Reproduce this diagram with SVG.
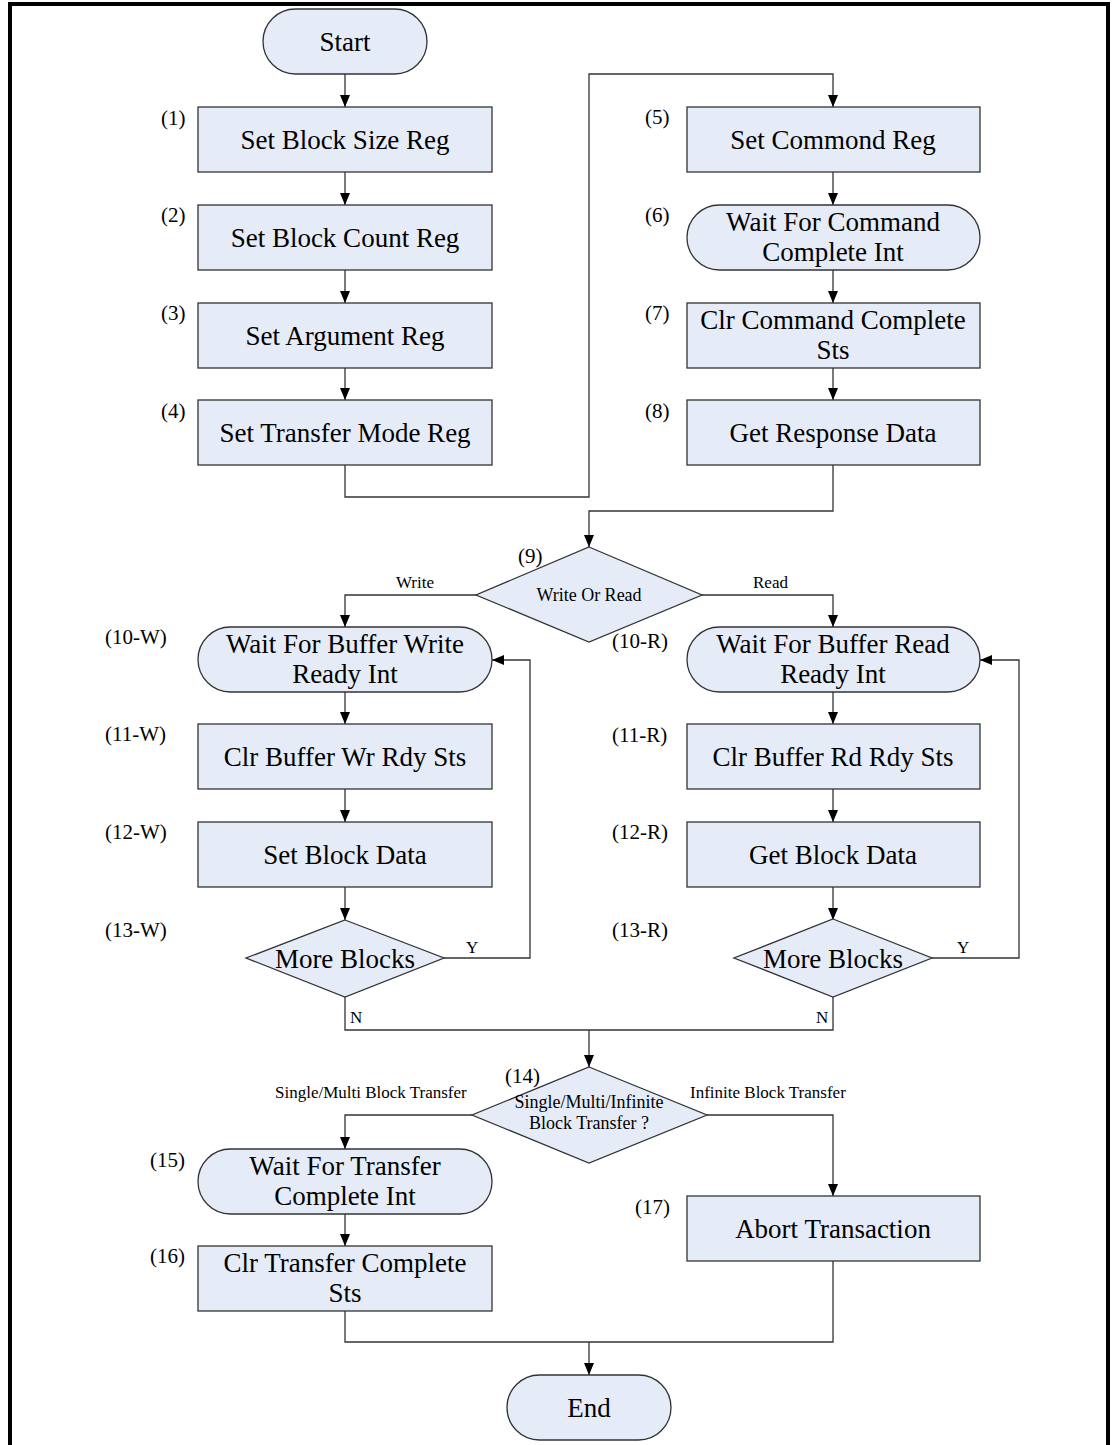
<svg xmlns="http://www.w3.org/2000/svg" width="1114" height="1445" viewBox="0 0 1114 1445">
<style>
.n{fill:#E6ECF7;stroke:#333;stroke-width:1.3}
.t{font-family:"Liberation Serif","Times New Roman",serif;font-size:27px;fill:#000;text-anchor:middle}
.s{font-family:"Liberation Serif","Times New Roman",serif;font-size:18px;fill:#000;text-anchor:middle}
.l{font-family:"Liberation Serif","Times New Roman",serif;font-size:21px;fill:#000}
.y{font-family:"Liberation Serif","Times New Roman",serif;font-size:17px;fill:#000}
.c{fill:none;stroke:#333;stroke-width:1.3}
</style>
<defs>
<marker id="a" markerUnits="userSpaceOnUse" markerWidth="12" markerHeight="12" refX="12" refY="5" orient="auto" viewBox="0 0 12 10">
<path d="M0,0 L12,5 L0,10 z" fill="#000"/>
</marker>
</defs>
<rect x="0" y="0" width="1114" height="1445" fill="#fff"/>
<rect x="10" y="4" width="1098" height="1460" fill="none" stroke="#000" stroke-width="4"/>

<g id="connectors">
<path class="c" d="M345,74 V107" marker-end="url(#a)"/>
<path class="c" d="M345,172 V205" marker-end="url(#a)"/>
<path class="c" d="M345,270 V303" marker-end="url(#a)"/>
<path class="c" d="M345,368 V400" marker-end="url(#a)"/>
<path class="c" d="M345,465 V497 H589 V74 H833 V107" marker-end="url(#a)"/>
<path class="c" d="M833,172 V205" marker-end="url(#a)"/>
<path class="c" d="M833,270 V303" marker-end="url(#a)"/>
<path class="c" d="M833,368 V400" marker-end="url(#a)"/>
<path class="c" d="M833,465 V511 H589 V547" marker-end="url(#a)"/>
<path class="c" d="M476,595 H345 V627" marker-end="url(#a)"/>
<path class="c" d="M702,595 H833 V627" marker-end="url(#a)"/>
<path class="c" d="M345,692 V724" marker-end="url(#a)"/>
<path class="c" d="M345,789 V822" marker-end="url(#a)"/>
<path class="c" d="M345,887 V920" marker-end="url(#a)"/>
<path class="c" d="M444,958 H530 V660 H492" marker-end="url(#a)"/>
<path class="c" d="M833,692 V724" marker-end="url(#a)"/>
<path class="c" d="M833,789 V822" marker-end="url(#a)"/>
<path class="c" d="M833,887 V920" marker-end="url(#a)"/>
<path class="c" d="M932,958 H1019 V660 H980" marker-end="url(#a)"/>
<path class="c" d="M345,997 V1030 H833 V997"/>
<path class="c" d="M589,1030 V1067" marker-end="url(#a)"/>
<path class="c" d="M472,1115 H345 V1149" marker-end="url(#a)"/>
<path class="c" d="M707,1115 H833 V1196" marker-end="url(#a)"/>
<path class="c" d="M345,1214 V1246" marker-end="url(#a)"/>
<path class="c" d="M345,1311 V1342 H833 V1261"/>
<path class="c" d="M589,1342 V1375" marker-end="url(#a)"/>
<text class="y" x="396" y="588">Write</text>
<text class="y" x="753" y="588">Read</text>
<text class="y" x="466" y="953">Y</text>
<text class="y" x="350" y="1023">N</text>
<text class="y" x="957" y="953">Y</text>
<text class="y" x="816" y="1023">N</text>
<text class="y" x="275" y="1098">Single/Multi Block Transfer</text>
<text class="y" x="690" y="1098">Infinite Block Transfer</text>
</g>

<g id="start"><rect class="n" x="263" y="9" width="164" height="65" rx="32.5"/><text class="t" x="345" y="51">Start</text></g>
<g id="n1"><rect class="n" x="198" y="107" width="294" height="65"/><text class="t" x="345" y="149">Set Block Size Reg</text><text class="l" x="161" y="125">(1)</text></g>
<g id="n2"><rect class="n" x="198" y="205" width="294" height="65"/><text class="t" x="345" y="247">Set Block Count Reg</text><text class="l" x="161" y="222">(2)</text></g>
<g id="n3"><rect class="n" x="198" y="303" width="294" height="65"/><text class="t" x="345" y="345">Set Argument Reg</text><text class="l" x="161" y="320">(3)</text></g>
<g id="n4"><rect class="n" x="198" y="400" width="294" height="65"/><text class="t" x="345" y="442">Set Transfer Mode Reg</text><text class="l" x="161" y="418">(4)</text></g>

<g id="n5"><rect class="n" x="687" y="107" width="293" height="65"/><text class="t" x="833" y="149">Set Commond Reg</text><text class="l" x="645" y="124">(5)</text></g>
<g id="n6"><rect class="n" x="687" y="205" width="293" height="65" rx="32.5"/><text class="t" x="833" y="231">Wait For Command</text><text class="t" x="833" y="261">Complete Int</text><text class="l" x="645" y="222">(6)</text></g>
<g id="n7"><rect class="n" x="687" y="303" width="293" height="65"/><text class="t" x="833" y="329">Clr Command Complete</text><text class="t" x="833" y="359">Sts</text><text class="l" x="645" y="320">(7)</text></g>
<g id="n8"><rect class="n" x="687" y="400" width="293" height="65"/><text class="t" x="833" y="442">Get Response Data</text><text class="l" x="645" y="418">(8)</text></g>

<g id="n9"><polygon class="n" points="589,547 702,595 589,642 476,595"/><text class="s" x="589" y="601">Write Or Read</text><text class="l" x="518" y="563">(9)</text></g>

<g id="n10w"><rect class="n" x="198" y="627" width="294" height="65" rx="32.5"/><text class="t" x="345" y="653">Wait For Buffer Write</text><text class="t" x="345" y="683">Ready Int</text><text class="l" x="105" y="644">(10-W)</text></g>
<g id="n11w"><rect class="n" x="198" y="724" width="294" height="65"/><text class="t" x="345" y="766">Clr Buffer Wr Rdy Sts</text><text class="l" x="105" y="741">(11-W)</text></g>
<g id="n12w"><rect class="n" x="198" y="822" width="294" height="65"/><text class="t" x="345" y="864">Set Block Data</text><text class="l" x="105" y="839">(12-W)</text></g>
<g id="n13w"><polygon class="n" points="345,920 444,958 345,997 246,958"/><text class="t" x="345" y="968">More Blocks</text><text class="l" x="105" y="937">(13-W)</text></g>

<g id="n10r"><rect class="n" x="687" y="627" width="293" height="65" rx="32.5"/><text class="t" x="833" y="653">Wait For Buffer Read</text><text class="t" x="833" y="683">Ready Int</text><text class="l" x="612" y="648">(10-R)</text></g>
<g id="n11r"><rect class="n" x="687" y="724" width="293" height="65"/><text class="t" x="833" y="766">Clr Buffer Rd Rdy Sts</text><text class="l" x="612" y="742">(11-R)</text></g>
<g id="n12r"><rect class="n" x="687" y="822" width="293" height="65"/><text class="t" x="833" y="864">Get Block Data</text><text class="l" x="612" y="839">(12-R)</text></g>
<g id="n13r"><polygon class="n" points="833,919 932,958 833,997 734,958"/><text class="t" x="833" y="968">More Blocks</text><text class="l" x="612" y="937">(13-R)</text></g>

<g id="n14"><polygon class="n" points="589,1067 707,1115 589,1163 472,1115"/><text class="s" x="589" y="1108">Single/Multi/Infinite</text><text class="s" x="589" y="1129">Block Transfer ?</text><text class="l" x="505" y="1083">(14)</text></g>

<g id="n15"><rect class="n" x="198" y="1149" width="294" height="65" rx="32.5"/><text class="t" x="345" y="1175">Wait For Transfer</text><text class="t" x="345" y="1205">Complete Int</text><text class="l" x="150" y="1167">(15)</text></g>
<g id="n16"><rect class="n" x="198" y="1246" width="294" height="65"/><text class="t" x="345" y="1272">Clr Transfer Complete</text><text class="t" x="345" y="1302">Sts</text><text class="l" x="150" y="1263">(16)</text></g>
<g id="n17"><rect class="n" x="687" y="1196" width="293" height="65"/><text class="t" x="833" y="1238">Abort Transaction</text><text class="l" x="635" y="1214">(17)</text></g>

<g id="end"><rect class="n" x="507" y="1375" width="164" height="65" rx="32.5"/><text class="t" x="589" y="1417">End</text></g>
</svg>
